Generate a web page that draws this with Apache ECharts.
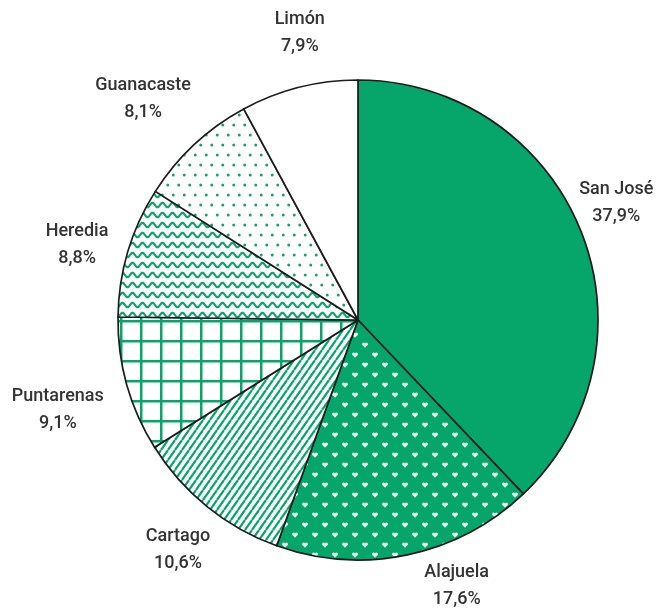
<!DOCTYPE html>
<html>
<head>
<meta charset="utf-8">
<script src="https://cdn.jsdelivr.net/npm/echarts@6/dist/echarts.min.js"></script>
<style>
html,body{margin:0;padding:0;background:#fff;}
#chart{width:659px;height:609px;}
</style>
</head>
<body>
<div id="chart"></div>
<script>
var categories = ['San José', 'Alajuela', 'Cartago', 'Puntarenas', 'Heredia', 'Guanacaste', 'Limón'];
var values = [37.9, 17.6, 10.6, 9.1, 8.8, 8.1, 7.9];
// small label nudges (px) relative to the computed outside position
var labelNudge = [[-11, -9], [39, -18], [2, 4], [-21, 12], [-3, 8], [-17, -9], [13, -6]];

var GREEN = '#06a66b';
var CX = 358, CY = 320, R = 240, LABEL_DIST = 290;

function makeCanvas(w, h, draw) {
  var c = document.createElement('canvas');
  c.width = w; c.height = h;
  var ctx = c.getContext('2d');
  draw(ctx, w, h);
  return c;
}

function heart(ctx, x, y) {
  ctx.beginPath();
  ctx.arc(x - 1.4, y - 0.9, 1.5, 0, Math.PI * 2);
  ctx.arc(x + 1.4, y - 0.9, 1.5, 0, Math.PI * 2);
  ctx.fill();
  ctx.beginPath();
  ctx.moveTo(x - 2.9, y - 0.5);
  ctx.lineTo(x + 2.9, y - 0.5);
  ctx.lineTo(x, y + 2.7);
  ctx.closePath();
  ctx.fill();
}

var patHearts = makeCanvas(20, 20, function (ctx) {
  ctx.fillStyle = GREEN; ctx.fillRect(0, 0, 20, 20);
  ctx.fillStyle = '#e8fff4';
  heart(ctx, 5, 5); heart(ctx, 15, 15);
});

var patStripes = makeCanvas(7, 10, function (ctx) {
  ctx.fillStyle = '#fff'; ctx.fillRect(0, 0, 7, 10);
  ctx.strokeStyle = GREEN; ctx.lineWidth = 2.2;
  for (var k = -1; k <= 1; k++) {
    ctx.beginPath();
    ctx.moveTo(k * 7, 10);
    ctx.lineTo(k * 7 + 7, 0);
    ctx.stroke();
  }
});

var patGrid = makeCanvas(20, 20, function (ctx) {
  ctx.fillStyle = '#fff'; ctx.fillRect(0, 0, 20, 20);
  ctx.fillStyle = GREEN;
  ctx.fillRect(0, 0, 2.5, 20);
  ctx.fillRect(0, 0, 20, 2.5);
});

var patWaves = makeCanvas(10, 10, function (ctx) {
  ctx.fillStyle = '#fff'; ctx.fillRect(0, 0, 10, 10);
  ctx.strokeStyle = '#17a070'; ctx.lineWidth = 2.2;
  ctx.beginPath();
  for (var x = -1; x <= 11; x += 0.5) {
    var y = 5 - 2.2 * Math.sin(x / 10 * Math.PI * 2);
    if (x === -1) ctx.moveTo(x, y); else ctx.lineTo(x, y);
  }
  ctx.stroke();
});

var patDots = makeCanvas(11, 20, function (ctx) {
  ctx.fillStyle = '#fff'; ctx.fillRect(0, 0, 11, 20);
  ctx.fillStyle = '#1f9c72';
  ctx.beginPath(); ctx.arc(2.75, 5, 1.5, 0, Math.PI * 2); ctx.fill();
  ctx.beginPath(); ctx.arc(8.25, 15, 1.5, 0, Math.PI * 2); ctx.fill();
});

var fills = [
  GREEN,
  { image: patHearts, repeat: 'repeat' },
  { image: patStripes, repeat: 'repeat' },
  { image: patGrid, repeat: 'repeat' },
  { image: patWaves, repeat: 'repeat' },
  { image: patDots, repeat: 'repeat' },
  '#ffffff'
];

var total = values.reduce(function (a, b) { return a + b; }, 0);
function midAngle(i) {
  var s = 0;
  for (var k = 0; k < i; k++) s += values[k];
  return (s + values[i] / 2) / total * Math.PI * 2;
}

var data = categories.map(function (name, i) {
  return { name: name, value: values[i], itemStyle: { color: fills[i] } };
});

var chart = echarts.init(document.getElementById('chart'), null, { renderer: 'canvas' });
chart.setOption({
  animation: false,
  backgroundColor: '#ffffff',
  series: [{
    type: 'pie',
    center: [CX, CY],
    radius: R,
    startAngle: 90,
    clockwise: true,
    avoidLabelOverlap: false,
    silent: true,
    data: data,
    itemStyle: { borderColor: '#1c1c1c', borderWidth: 1.7 },
    label: {
      show: true,
      position: 'outside',
      fontFamily: "Roboto, sans-serif",
      fontSize: 18,
      fontWeight: 500,
      lineHeight: 27,
      color: '#333333',
      align: 'center',
      formatter: function (p) {
        return p.name + '\n' + p.value.toFixed(1).replace('.', ',') + '%';
      }
    },
    labelLine: { show: false },
    labelLayout: function (p) {
      var a = midAngle(p.dataIndex);
      var sx = Math.sin(a), sy = -Math.cos(a);
      var n = labelNudge[p.dataIndex];
      return { x: CX + sx * LABEL_DIST + n[0], y: CY + sy * LABEL_DIST + n[1], align: 'center', verticalAlign: 'middle' };
    }
  }]
});
</script>
</body>
</html>
